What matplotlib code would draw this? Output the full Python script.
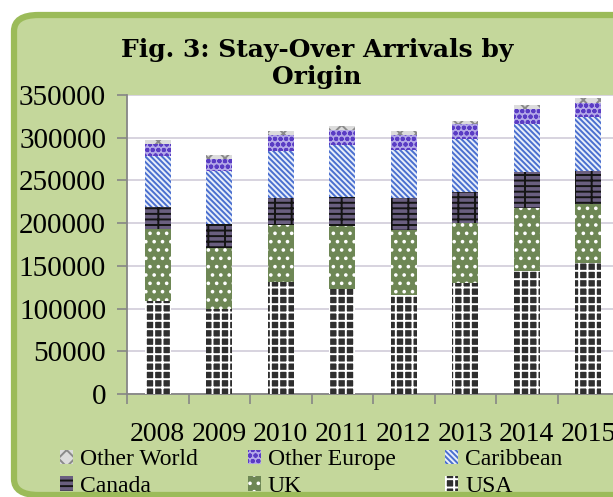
import numpy as np
import matplotlib
matplotlib.use('Agg')
import matplotlib.pyplot as plt
from matplotlib.patches import FancyBboxPatch, Patch

# Stay-over arrivals by origin
years = ['2008', '2009', '2010', '2011', '2012', '2013', '2014', '2015']
usa = [109000, 99000, 131500, 122500, 116000, 129500, 144500, 153500]
uk = [84000, 72000, 66500, 74000, 76000, 70500, 73000, 69000]
canada = [26000, 28000, 31500, 34500, 37500, 36000, 42000, 38500]
caribbean = [60000, 61500, 54500, 60500, 56000, 62500, 56000, 63500]
other_europe = [13500, 14500, 19500, 17500, 17500, 17000, 18500, 16500]
other_world = [4500, 4500, 4500, 4500, 4500, 4500, 4500, 5000]

series = [
    ('USA', usa, '#2e2e2e', 'white', '++'),
    ('UK', uk, '#6e8755', 'white', '..'),
    ('Canada', canada, '#6a5f80', '#141414', '---|'),
    ('Caribbean', caribbean, '#e8eefa', '#4a6fcf', '\\\\\\\\\\\\'),
    ('Other Europe', other_europe, '#b3a8e8', '#5a3cc4', 'ooo'),
    ('Other World', other_world, '#dcdcdc', '#8a8a8a', 'xx'),
]

plt.rcParams['hatch.linewidth'] = 1.4

fig = plt.figure(figsize=(6.13, 4.97), dpi=100)
fig.patch.set_facecolor('white')

# green rounded panel behind everything
panel = FancyBboxPatch((14 / 613, 2 / 497), 640 / 613, 480 / 497,
                       boxstyle="round,pad=0,rounding_size=0.04",
                       transform=fig.transFigure, facecolor='#c4d79b',
                       edgecolor='#9bbb59', linewidth=4.5, zorder=-5,
                       mutation_aspect=497 / 613)
fig.patches.append(panel)

ax = fig.add_axes([127 / 613, 103 / 497, 492 / 613, 299 / 497])
ax.set_zorder(2)
ax.set_facecolor('white')

x = np.arange(len(years))
bottom = np.zeros(len(years))
handles = {}
for name, vals, face, hatchc, hatch in series:
    bars = ax.bar(x, vals, width=0.42, bottom=bottom, color=face,
                  edgecolor=hatchc, hatch=hatch, linewidth=0, zorder=3)
    handles[name] = Patch(facecolor=face, edgecolor=hatchc, hatch=hatch, linewidth=0)
    bottom += np.array(vals)

ax.set_xlim(-0.5, len(years) - 0.5)
ax.set_ylim(0, 350000)
ax.set_yticks(np.arange(0, 350001, 50000))
ax.yaxis.grid(True, color='#d4d0dc', linewidth=1.3, zorder=0)
ax.set_axisbelow(True)

for s in ['top', 'right']:
    ax.spines[s].set_visible(False)
for s in ['left', 'bottom']:
    ax.spines[s].set_color('#868686')
    ax.spines[s].set_linewidth(1.3)

ax.set_xticks(x)
ax.set_xticklabels(years)
ax.set_xticks(np.arange(-0.5, len(years) + 0.5, 1), minor=True)
ax.tick_params(axis='x', which='major', length=0, pad=20)
ax.tick_params(axis='x', which='minor', length=7, color='#868686', width=1.2)
ax.tick_params(axis='y', length=7, color='#868686', width=1.2, pad=8)
for lab in ax.get_xticklabels():
    lab.set_fontfamily('Liberation Serif')
    lab.set_fontsize(20)
for lab in ax.get_yticklabels():
    lab.set_fontfamily('Liberation Serif')
    lab.set_fontsize(21)

fig.text(317 / 613, 1 - 38 / 497, 'Fig. 3: Stay-Over Arrivals by\nOrigin',
         ha='center', va='top', fontsize=18, fontweight='bold',
         family='DejaVu Serif', linespacing=1.15)

order = ['Other World', 'Canada', 'Other Europe', 'UK', 'Caribbean', 'USA']
leg = fig.legend([handles[n] for n in order], order, ncol=3,
                 loc='upper left', bbox_to_anchor=(60 / 613, 1 - 449 / 497),
                 frameon=False, prop={'family': 'Liberation Serif', 'size': 17},
                 handlelength=0.55, handleheight=0.55, handletextpad=0.3,
                 columnspacing=2.1, labelspacing=0.25, borderpad=0, borderaxespad=0)

fig.savefig('out.png', dpi=100, facecolor=fig.get_facecolor())
